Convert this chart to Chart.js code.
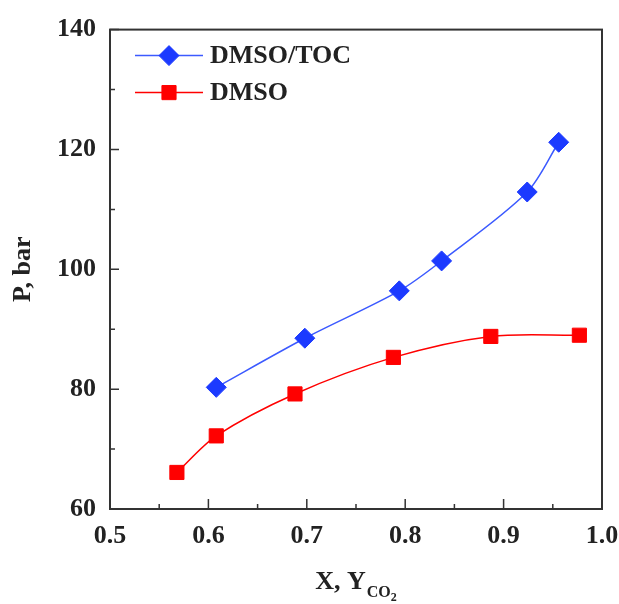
<!DOCTYPE html>
<html>
<head>
<meta charset="utf-8">
<script src="https://cdn.jsdelivr.net/npm/chart.js@4.4.1/dist/chart.umd.min.js"></script>
<style>
  html, body { margin: 0; padding: 0; background: #fff; }
  #wrap { width: 619px; height: 604px; position: relative; }
</style>
</head>
<body>
<div id="wrap"><canvas id="chart"></canvas></div>
<script>
// values
const dmsoTocX = [0.608, 0.698, 0.794, 0.837, 0.924, 0.956]
const dmsoTocP = [80.3, 88.5, 96.4, 101.4, 112.9, 121.2]
const dmsoX = [0.568, 0.608, 0.688, 0.788, 0.887, 0.977]
const dmsoP = [66.1, 72.2, 79.2, 85.3, 88.8, 89.0]
const xTicks = [0.5, 0.6, 0.7, 0.8, 0.9, 1.0]
const yTicks = [60, 80, 100, 120, 140]
const seriesLabels = ["DMSO/TOC", "DMSO"]

const FONT = "'Liberation Serif', 'Times New Roman', serif"
const INK = "#222"
const BLUE = "rgb(28, 58, 255)"
const RED = "rgb(255, 0, 0)"

const toPoints = (xs, ys) => xs.map((x, i) => ({ x: x, y: ys[i] }))

// frame, inward ticks (major + minor), x title with subscript, inner legend
const decorations = {
  id: "decorations",
  afterDraw(chart) {
    const { ctx, chartArea: a, scales } = chart
    const xs = scales.x, ys = scales.y
    ctx.save()
    ctx.strokeStyle = "#333"
    ctx.lineWidth = 2
    ctx.strokeRect(a.left, a.top, a.right - a.left, a.bottom - a.top)

    ctx.lineWidth = 1.5
    ctx.beginPath()
    for (let i = 0; i < xTicks.length * 2 - 1; i++) {
      const v = xTicks[0] + i * (xTicks[1] - xTicks[0]) / 2
      const px = xs.getPixelForValue(v)
      const len = i % 2 === 0 ? 10 : 5
      ctx.moveTo(px, a.bottom)
      ctx.lineTo(px, a.bottom - len)
    }
    for (let i = 0; i < yTicks.length * 2 - 1; i++) {
      const v = yTicks[0] + i * (yTicks[1] - yTicks[0]) / 2
      const py = ys.getPixelForValue(v)
      const len = i % 2 === 0 ? 9 : 5
      ctx.moveTo(a.left, py)
      ctx.lineTo(a.left + len, py)
    }
    ctx.stroke()

    // x title: "X, Y" with CO2 subscript
    const main = "X, Y", sub = "CO", sub2 = "2"
    ctx.fillStyle = INK
    ctx.textBaseline = "alphabetic"
    ctx.font = "bold 26px " + FONT
    const wMain = ctx.measureText(main).width
    ctx.font = "bold 16px " + FONT
    const wSub = ctx.measureText(sub).width
    ctx.font = "bold 12px " + FONT
    const wSub2 = ctx.measureText(sub2).width
    const total = wMain + wSub + wSub2 + 1
    let tx = (a.left + a.right) / 2 - total / 2
    const base = a.bottom + 80
    ctx.textAlign = "left"
    ctx.font = "bold 26px " + FONT
    ctx.fillText(main, tx, base)
    tx += wMain + 1
    ctx.font = "bold 16px " + FONT
    ctx.fillText(sub, tx, base + 8)
    tx += wSub
    ctx.font = "bold 12px " + FONT
    ctx.fillText(sub2, tx, base + 12)

    // legend inside the plot
    chart.data.datasets.forEach((ds, i) => {
      const y = a.top + 26 + i * 37
      const x0 = a.left + 25, x1 = a.left + 93, xm = (x0 + x1) / 2
      ctx.strokeStyle = ds.borderColor
      ctx.lineWidth = 1.5
      ctx.beginPath()
      ctx.moveTo(x0, y)
      ctx.lineTo(x1, y)
      ctx.stroke()
      ctx.fillStyle = ds.pointBackgroundColor
      ctx.strokeStyle = ds.pointBackgroundColor
      ctx.lineWidth = 1
      Chart.helpers.drawPoint(ctx, { pointStyle: ds.pointStyle, radius: ds.pointRadius, borderWidth: 1 }, xm, y)
      ctx.fillStyle = INK
      ctx.font = "bold 26px " + FONT
      ctx.textBaseline = "middle"
      ctx.fillText(ds.label, a.left + 100, y + 1)
    })
    ctx.restore()
  }
}

new Chart(document.getElementById("chart"), {
  type: "line",
  data: {
    datasets: [
      {
        label: seriesLabels[0],
        data: toPoints(dmsoTocX, dmsoTocP),
        borderColor: "rgb(60, 90, 255)",
        borderWidth: 1.5,
        pointStyle: "rectRot",
        pointRadius: 10,
        pointBorderWidth: 1,
        pointBackgroundColor: BLUE,
        pointBorderColor: BLUE,
        tension: 0.3,
        fill: false
      },
      {
        label: seriesLabels[1],
        data: toPoints(dmsoX, dmsoP),
        borderColor: RED,
        borderWidth: 1.5,
        pointStyle: "rect",
        pointRadius: 10,
        pointBorderWidth: 1,
        pointBackgroundColor: RED,
        pointBorderColor: RED,
        tension: 0.3,
        fill: false
      }
    ]
  },
  options: {
    responsive: true,
    maintainAspectRatio: false,
    animation: false,
    layout: { padding: { left: 0, top: 27, right: 0, bottom: 0 } },
    scales: {
      x: {
        type: "linear",
        min: 0.5,
        max: 1.0,
        afterFit: (s) => { s.height = 95; s.paddingRight = 17; s.paddingLeft = 0 },
        afterBuildTicks: (s) => { s.ticks = xTicks.map((v) => ({ value: v })) },
        grid: { display: false, drawTicks: false },
        border: { display: true, width: 2, color: "#333" },
        ticks: {
          padding: 12,
          color: INK,
          font: { family: FONT, size: 26, weight: "bold" },
          callback: (v) => Number(v).toFixed(1)
        }
      },
      y: {
        min: 60,
        max: 140,
        afterFit: (s) => { s.width = 110 },
        afterBuildTicks: (s) => { s.ticks = yTicks.map((v) => ({ value: v })) },
        grid: { display: false, drawTicks: false },
        border: { display: true, width: 2, color: "#333" },
        ticks: {
          padding: 14,
          color: INK,
          font: { family: FONT, size: 26, weight: "bold" }
        },
        title: {
          display: true,
          text: "P, bar",
          color: INK,
          padding: { top: 8, bottom: 0 },
          font: { family: FONT, size: 26, weight: "bold" }
        }
      }
    },
    plugins: {
      legend: { display: false },
      tooltip: { enabled: false }
    }
  },
  plugins: [decorations]
})
</script>
</body>
</html>
